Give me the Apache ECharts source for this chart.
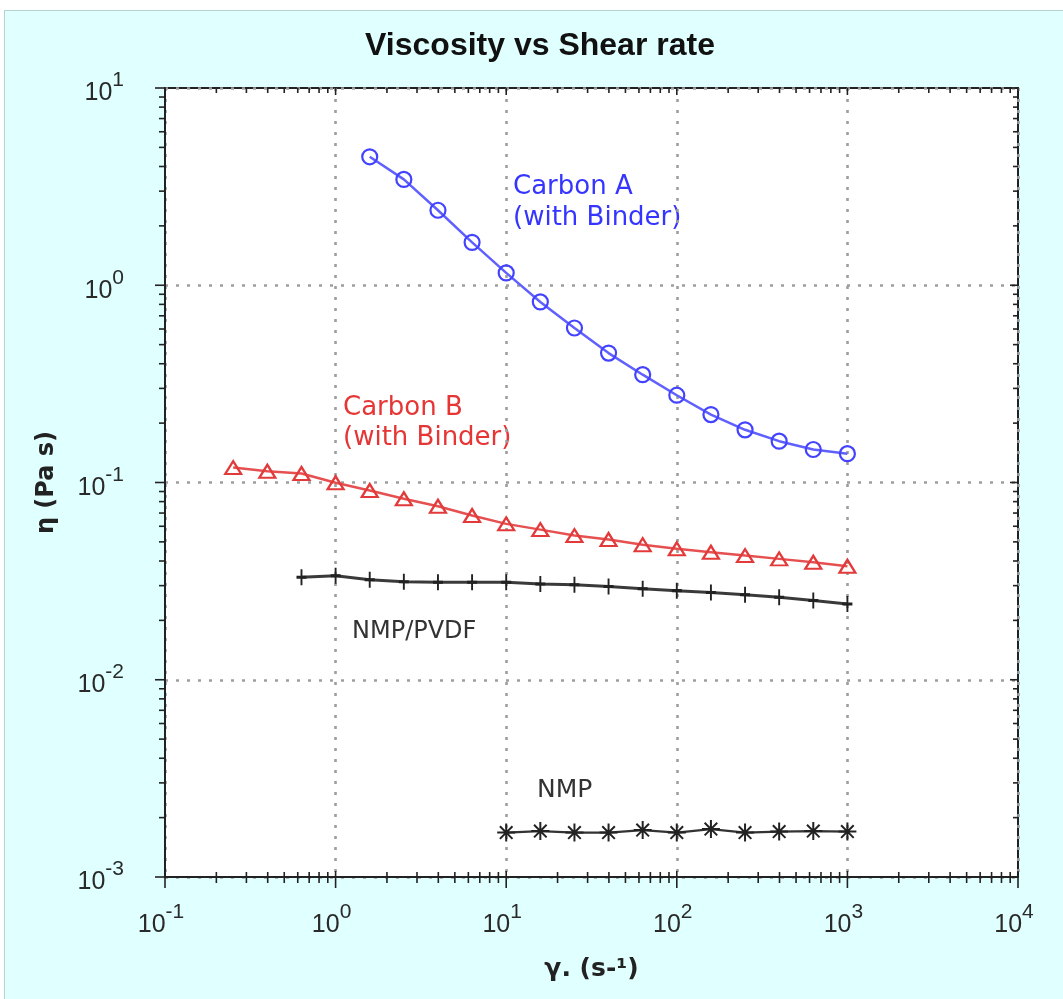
<!DOCTYPE html>
<html>
<head>
<meta charset="utf-8">
<script src="https://cdn.jsdelivr.net/npm/echarts/dist/echarts.min.js"></script>
<style>
html,body{margin:0;padding:0;background:#ffffff;}
#bg{position:absolute;left:4px;top:10px;width:1059px;height:989px;background:#e0ffff;border-left:1px solid #b9d3d3;border-top:1px solid #b9d3d3;box-sizing:border-box;}
#chart{position:absolute;left:0;top:0;width:1063px;height:999px;}
</style>
</head>
<body>
<div id="bg"></div>
<div id="chart"></div>
<script>
// ---- data ----
const carbonA_rate = [1.585, 2.512, 3.981, 6.31, 10, 15.85, 25.12, 39.81, 63.1, 100, 158.5, 251.2, 398.1, 631, 1000];
const carbonA_visc = [4.48, 3.44, 2.40, 1.65, 1.155, 0.823, 0.607, 0.453, 0.352, 0.277, 0.221, 0.185, 0.162, 0.147, 0.140];

const carbonB_rate = [0.251, 0.398, 0.631, 1, 1.585, 2.512, 3.981, 6.31, 10, 15.85, 25.12, 39.81, 63.1, 100, 158.5, 251.2, 398.1, 631, 1000];
const carbonB_visc = [0.119, 0.114, 0.111, 0.0997, 0.0911, 0.0827, 0.0758, 0.0680, 0.0617, 0.0577, 0.0538, 0.0514, 0.0484, 0.0461, 0.0443, 0.0426, 0.0410, 0.0394, 0.0376];

const pvdf_rate = [0.631, 1, 1.585, 2.512, 3.981, 6.31, 10, 15.85, 25.12, 39.81, 63.1, 100, 158.5, 251.2, 398.1, 631, 1000];
const pvdf_visc = [0.0331, 0.0337, 0.0321, 0.0314, 0.0312, 0.0312, 0.0312, 0.0306, 0.0303, 0.0297, 0.0289, 0.0283, 0.0277, 0.0270, 0.0262, 0.0252, 0.0242];

const nmp_rate = [10, 15.85, 25.12, 39.81, 63.1, 100, 158.5, 251.2, 398.1, 631, 1000];
const nmp_visc = [0.00168, 0.00171, 0.00168, 0.00168, 0.00173, 0.00168, 0.00175, 0.00168, 0.00170, 0.00171, 0.00170];

const titleText = 'Viscosity vs Shear rate';
const xAxisName = 'γ. (s-¹)';
const yAxisName = 'η (Pa s)';
const labels = {
  carbonA: ['Carbon A', '(with Binder)'],
  carbonB: ['Carbon B', '(with Binder)'],
  pvdf: ['NMP/PVDF'],
  nmp: ['NMP']
};

const X_MIN = 0.1, X_MAX = 10000, Y_MIN = 0.001, Y_MAX = 10;

function zip(a, b) { return a.map((v, i) => [v, b[i]]); }

function logTicks(min, max) {
  const out = [];
  const e0 = Math.round(Math.log10(min)), e1 = Math.round(Math.log10(max));
  for (let e = e0; e <= e1; e++) {
    for (let m = 1; m <= 9; m++) {
      if (e === e1 && m > 1) break;
      out.push({ v: m * Math.pow(10, e), major: m === 1 });
    }
  }
  return out;
}

function renderTicks(params, api) {
  const p0 = api.coord([X_MIN, Y_MIN]), p1 = api.coord([X_MAX, Y_MAX]);
  const L = p0[0], B = p0[1], R = p1[0], T = p1[1];
  const kids = [];
  const seg = (x1, y1, x2, y2) => kids.push({
    type: 'line', shape: { x1, y1, x2, y2 },
    style: { stroke: '#222', lineWidth: 1.6 }, silent: true
  });
  logTicks(X_MIN, X_MAX).forEach(t => {
    const x = api.coord([t.v, Y_MIN])[0];
    if (t.major) { seg(x, B - 6, x, B + 11); seg(x, T, x, T + 7); }
    else { seg(x, B - 5, x, B + 6); seg(x, T, x, T + 5); }
  });
  logTicks(Y_MIN, Y_MAX).forEach(t => {
    const y = api.coord([X_MIN, t.v])[1];
    if (t.major) { seg(L - 10, y, L, y); seg(R - 8, y, R, y); }
    else { seg(L - 6, y, L, y); seg(R - 5, y, R, y); }
  });
  return { type: 'group', children: kids };
}

const expFmt = v => '{b|10}{s|' + Math.round(Math.log10(v)) + '}';
const labelFont = 'Liberation Sans, Arial, sans-serif';
const nameFont = 'DejaVu Sans, Verdana, sans-serif';

const chart = echarts.init(document.getElementById('chart'), null, { renderer: 'canvas' });

function textEl(txt, x, y, color, size) {
  return {
    type: 'text', x: x, y: y, silent: true,
    style: { text: txt, fill: color, fontSize: size, fontFamily: 'DejaVu Sans, Verdana, sans-serif',
             align: 'left', verticalAlign: 'middle', textAlign: 'left', textVerticalAlign: 'middle' }
  };
}

const gridLine = { show: true, lineStyle: { color: '#9e9e9e', type: [3, 8], width: 2.6 } };

const option = {
  animation: false,
  backgroundColor: 'transparent',
  grid: {
    left: 165, top: 88, width: 853, height: 789,
    show: true, backgroundColor: '#ffffff', borderColor: '#222', borderWidth: 2
  },
  graphic: [
    { type: 'text', x: 540, y: 46, silent: true,
      style: { text: titleText, fill: '#111', fontSize: 32, fontWeight: 'bold', fontFamily: labelFont,
               align: 'center', verticalAlign: 'middle', textAlign: 'center', textVerticalAlign: 'middle' } },
    textEl(labels.carbonA[0], 513, 187, '#3535ff', 26),
    textEl(labels.carbonA[1], 513, 218, '#3535ff', 26),
    textEl(labels.carbonB[0], 343, 408, '#e53535', 26),
    textEl(labels.carbonB[1], 343, 438, '#e53535', 26),
    textEl(labels.pvdf[0], 352, 632, '#333333', 24),
    textEl(labels.nmp[0], 537, 790, '#333333', 25)
  ],
  xAxis: {
    type: 'log', logBase: 10, min: X_MIN, max: X_MAX,
    name: xAxisName, nameLocation: 'middle', nameGap: 80,
    nameTextStyle: { fontSize: 25, fontWeight: 'bold', color: '#222', fontFamily: nameFont },
    axisLine: { show: true, lineStyle: { color: '#222', width: 2 } },
    axisTick: { show: false },
    minorTick: { show: false },
    splitLine: gridLine,
    axisLabel: {
      margin: 25, formatter: expFmt,
      rich: {
        b: { fontSize: 25, color: '#2a2a2a', fontFamily: labelFont, padding: [11, 0, 0, 0], verticalAlign: 'top' },
        s: { fontSize: 21, color: '#2a2a2a', fontFamily: labelFont, verticalAlign: 'top', padding: [0, 8, 0, 0] }
      }
    }
  },
  yAxis: {
    type: 'log', logBase: 10, min: Y_MIN, max: Y_MAX,
    name: yAxisName, nameLocation: 'middle', nameGap: 106, nameRotate: 90,
    nameTextStyle: { fontSize: 24, fontWeight: 'bold', color: '#222', fontFamily: nameFont },
    axisLine: { show: true, lineStyle: { color: '#222', width: 2 } },
    axisTick: { show: false },
    minorTick: { show: false },
    splitLine: gridLine,
    axisLabel: {
      margin: 41, formatter: expFmt,
      rich: {
        b: { fontSize: 25, color: '#2a2a2a', fontFamily: labelFont, padding: [11, 0, 0, 0], verticalAlign: 'top' },
        s: { fontSize: 21, color: '#2a2a2a', fontFamily: labelFont, verticalAlign: 'top' }
      }
    }
  },
  series: [
    {
      type: 'custom', name: 'ticks', data: [[1, 1]], renderItem: renderTicks,
      silent: true, clip: false, z: 5
    },
    {
      type: 'line', name: 'Carbon A', data: zip(carbonA_rate, carbonA_visc),
      symbol: 'circle', symbolSize: 15,
      itemStyle: { color: 'rgba(0,0,0,0)', borderColor: '#4343ff', borderWidth: 2.2 },
      lineStyle: { color: '#6060ff', width: 2.5 },
      emphasis: { disabled: true }, z: 3
    },
    {
      type: 'line', name: 'Carbon B', data: zip(carbonB_rate, carbonB_visc),
      symbol: 'triangle', symbolSize: [16, 13],
      itemStyle: { color: 'rgba(0,0,0,0)', borderColor: '#e23a3a', borderWidth: 2.2 },
      lineStyle: { color: '#e65050', width: 2.5 },
      emphasis: { disabled: true }, z: 3
    },
    {
      type: 'line', name: 'NMP/PVDF', data: zip(pvdf_rate, pvdf_visc),
      symbol: 'path://M5,0L5,16M0,8L10,8', symbolSize: [10, 16],
      itemStyle: { color: 'rgba(0,0,0,0)', borderColor: '#222', borderWidth: 2.4 },
      lineStyle: { color: '#3a3a3a', width: 3 },
      emphasis: { disabled: true }, z: 3
    },
    {
      type: 'line', name: 'NMP', data: zip(nmp_rate, nmp_visc),
      symbol: 'path://M10,0L10,20M0,10L20,10M3,3L17,17M3,17L17,3', symbolSize: 18,
      itemStyle: { color: 'rgba(0,0,0,0)', borderColor: '#222', borderWidth: 2 },
      lineStyle: { color: '#333', width: 2.2 },
      emphasis: { disabled: true }, z: 3
    }
  ]
};
chart.setOption(option);
</script>
</body>
</html>
